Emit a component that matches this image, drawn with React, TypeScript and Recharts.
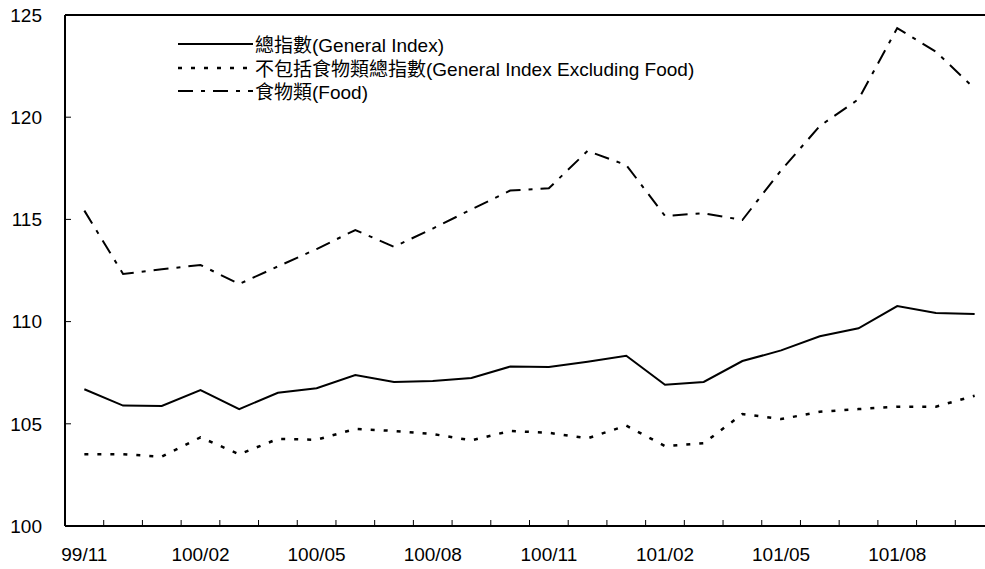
import { Legend, Line, LineChart, ReferenceLine, XAxis, YAxis } from "recharts";

const MONTHS = [
  "99/11", "99/12", "100/01", "100/02", "100/03", "100/04", "100/05", "100/06",
  "100/07", "100/08", "100/09", "100/10", "100/11", "100/12", "101/01", "101/02",
  "101/03", "101/04", "101/05", "101/06", "101/07", "101/08", "101/09", "101/10",
];

const GENERAL = [
  106.69, 105.89, 105.87, 106.65, 105.72, 106.52, 106.74, 107.39, 107.05, 107.09,
  107.24, 107.8, 107.78, 108.04, 108.33, 106.91, 107.05, 108.07, 108.59, 109.28,
  109.67, 110.76, 110.42, 110.37,
];

const EX_FOOD = [
  103.51, 103.51, 103.39, 104.34, 103.51, 104.26, 104.22, 104.75, 104.65, 104.5,
  104.19, 104.65, 104.56, 104.29, 104.91, 103.91, 104.05, 105.48, 105.23, 105.59,
  105.72, 105.84, 105.84, 106.37,
];

const FOOD = [
  115.43, 112.33, 112.56, 112.77, 111.84, 112.7, 113.55, 114.48, 113.66, 114.55,
  115.49, 116.41, 116.52, 118.35, 117.66, 115.17, 115.3, 114.97, 117.4, 119.57,
  120.88, 124.36, 123.2, 121.4,
];

const Y_TICKS = [100, 105, 110, 115, 120, 125];

const SERIES = [
  { key: "general", name: "總指數(General Index)", dash: undefined, width: 2 },
  { key: "exFood", name: "不包括食物類總指數(General Index Excluding Food)", dash: "4 9", width: 2.5 },
  { key: "food", name: "食物類(Food)", dash: "15 8 4 8", width: 2 },
];

const FONT = "'Liberation Sans', Arial, 'Noto Sans CJK TC', sans-serif";
const CHART_W = 1000;
const LEFT = 65;
const RIGHT = 6;
const PLOT_W = CHART_W - LEFT - RIGHT;

const data = MONTHS.map((m, i) => ({
  month: m,
  general: GENERAL[i],
  exFood: EX_FOOD[i],
  food: FOOD[i],
}));

function XTick(props: any) {
  const { x, y, payload, index } = props;
  const step = PLOT_W / MONTHS.length;
  return (
    <g>
      <line x1={x - step / 2} x2={x - step / 2} y1={y} y2={y - 6} stroke="#000" strokeWidth={1} />
      {index === MONTHS.length - 1 && (
        <line x1={x + step / 2} x2={x + step / 2} y1={y} y2={y - 6} stroke="#000" strokeWidth={1} />
      )}
      {index % 3 === 0 && (
        <text x={x} y={y + 35} textAnchor="middle" fontSize={19} fill="#000" fontFamily={FONT}>
          {payload.value}
        </text>
      )}
    </g>
  );
}

function renderLegend() {
  return (
    <div style={{ fontFamily: FONT, fontSize: 19, color: "#000" }}>
      {SERIES.map((s) => (
        <div key={s.key} style={{ display: "flex", alignItems: "center", height: 23.5, whiteSpace: "nowrap" }}>
          <svg width={77} height={23.5} style={{ display: "block" }}>
            <line x1={0} x2={75} y1={10} y2={10} stroke="#000" strokeWidth={s.width} strokeDasharray={s.dash} />
          </svg>
          <span style={{ lineHeight: "23.5px" }}>{s.name}</span>
        </div>
      ))}
    </div>
  );
}

export default function App() {
  return (
    <div
      style={{
        position: "absolute",
        left: 0,
        top: 0,
        width: 985,
        height: 569,
        overflow: "hidden",
        background: "#fff",
        fontFamily: FONT,
      }}
    >
      <LineChart
        width={CHART_W}
        height={569}
        data={data}
        margin={{ top: 15, right: RIGHT, bottom: 0, left: 0 }}
      >
        <XAxis
          dataKey="month"
          interval={0}
          height={43}
          padding={{ left: PLOT_W / MONTHS.length / 2, right: PLOT_W / MONTHS.length / 2 }}
          tickLine={false}
          tickSize={0}
          tickMargin={0}
          tick={<XTick />}
          axisLine={{ stroke: "#000", strokeWidth: 2 }}
        />
        <YAxis
          width={LEFT}
          domain={[100, 125]}
          ticks={Y_TICKS}
          interval={0}
          tickSize={-6}
          tickMargin={29}
          tick={{ fill: "#000", fontSize: 19, fontFamily: FONT }}
          tickLine={{ stroke: "#000", strokeWidth: 1 }}
          axisLine={{ stroke: "#000", strokeWidth: 2 }}
          allowDataOverflow
        />
        <ReferenceLine y={125} stroke="#000" strokeWidth={2} />
        <Legend
          layout="vertical"
          align="center"
          verticalAlign="middle"
          content={renderLegend}
          wrapperStyle={{ left: 178, top: 34, width: 600, height: 72 }}
        />
        {SERIES.map((s) => (
          <Line
            key={s.key}
            type="linear"
            dataKey={s.key}
            name={s.name}
            stroke="#000"
            strokeWidth={s.width}
            strokeDasharray={s.dash}
            dot={false}
            activeDot={false}
            isAnimationActive={false}
          />
        ))}
      </LineChart>
    </div>
  );
}
